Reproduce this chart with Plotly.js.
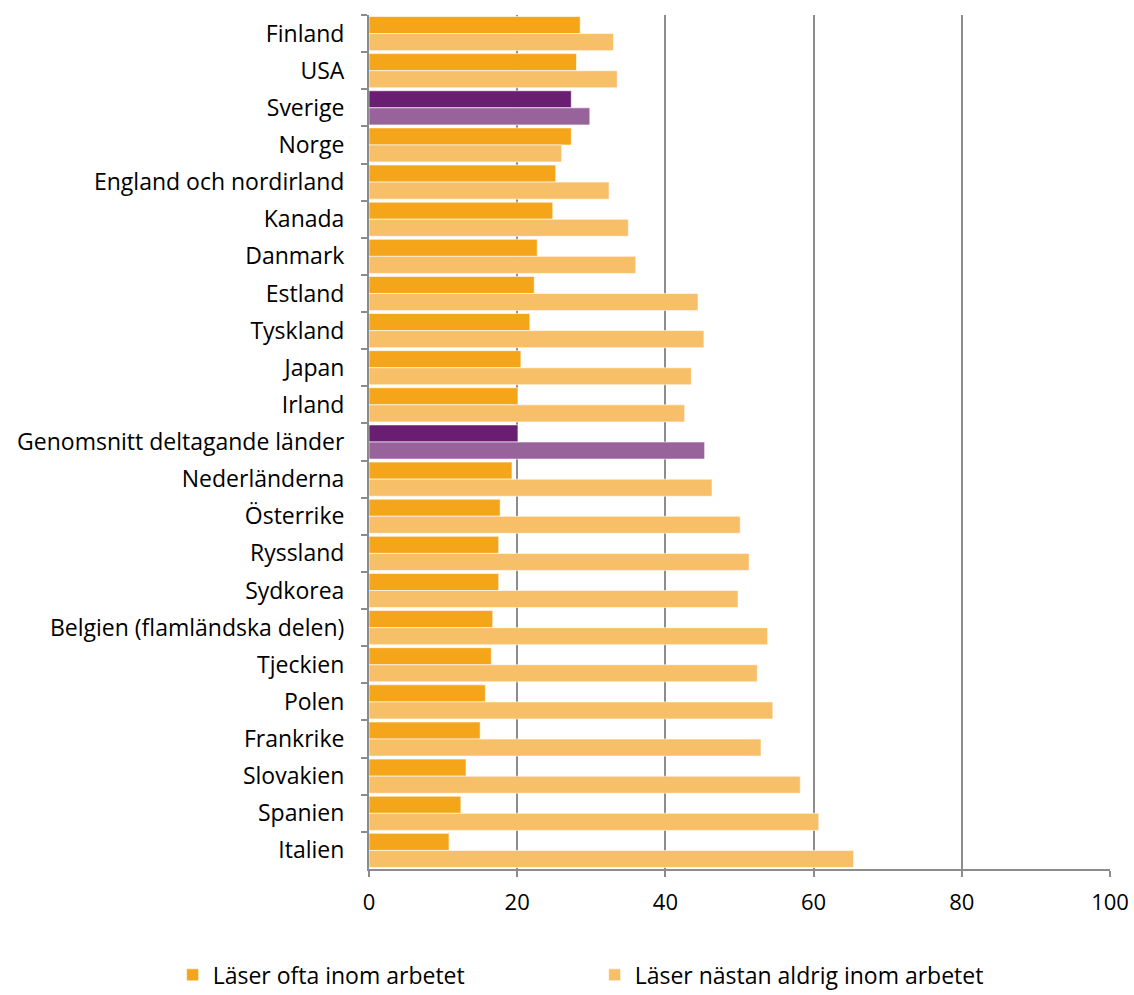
<!DOCTYPE html>
<html><head><meta charset="utf-8">
<script src="https://cdn.plot.ly/plotly-3.0.1.min.js"></script>
<style>html,body{margin:0;padding:0;background:#fff}#chart{width:1134px;height:995px}</style>
</head><body><div id="chart"></div>
<script>
const countries = ["Finland","USA","Sverige","Norge","England och nordirland","Kanada","Danmark","Estland","Tyskland","Japan","Irland","Genomsnitt deltagande länder","Nederländerna","Österrike","Ryssland","Sydkorea","Belgien (flamländska delen)","Tjeckien","Polen","Frankrike","Slovakien","Spanien","Italien"];
const oftaValues = [28.5,28.0,27.3,27.3,25.2,24.8,22.7,22.3,21.7,20.5,20.1,20.1,19.3,17.7,17.5,17.5,16.7,16.5,15.7,15.0,13.1,12.4,10.8];
const aldrigValues = [33.0,33.5,29.8,26.0,32.4,35.0,36.0,44.4,45.2,43.5,42.6,45.3,46.3,50.1,51.3,49.8,53.8,52.4,54.5,52.9,58.2,60.7,65.4];
const seriesNames = ["Läser ofta inom arbetet","Läser nästan aldrig inom arbetet"];
const highlight = ["Sverige","Genomsnitt deltagande länder"];
const xTicks = [0,20,40,60,80,100];

const c1 = countries.map(c => highlight.includes(c) ? "#6A1E72" : "#F4A519");
const c2 = countries.map(c => highlight.includes(c) ? "#98629B" : "#F8BF69");

const traces = [
  {type:"bar", orientation:"h", name:seriesNames[0], y:countries, x:oftaValues,
   marker:{color:c1, line:{color:"rgba(255,255,255,0.6)", width:1}}},
  {type:"bar", orientation:"h", name:seriesNames[1], y:countries, x:aldrigValues,
   marker:{color:c2, line:{color:"rgba(255,255,255,0.6)", width:1}}}
];
const font = {family:"'Open Sans', sans-serif", size:23, color:"#000"};
const tickFont = {family:"'Open Sans', sans-serif", size:22, color:"#000"};
const layout = {
  width:1134, height:995,
  margin:{l:369, r:24, t:15, b:126, autoexpand:false},
  barmode:"group", bargap:0.08, bargroupgap:0,
  font:font,
  plot_bgcolor:"#fff", paper_bgcolor:"#fff",
  showlegend:true,
  legend:{orientation:"h", x:-0.265, xanchor:"left", y:-0.124, yanchor:"middle",
          font:font, entrywidth:377, entrywidthmode:"pixels", traceorder:"normal"},
  xaxis:{range:[0,100], tickvals:xTicks, ticktext:xTicks.map(String),
         showgrid:true, gridcolor:"#8C8C8C", gridwidth:2,
         showline:true, linecolor:"#8C8C8C", linewidth:2,
         ticks:"outside", ticklen:6, tickcolor:"#8C8C8C", tickwidth:2,
         zeroline:false, fixedrange:true, tickfont:tickFont, ticklabelstandoff:7},
  yaxis:{type:"category", autorange:"reversed", categoryorder:"array", categoryarray:countries,
         showline:true, linecolor:"#8C8C8C", linewidth:2,
         ticks:"outside", ticklen:6, tickcolor:"#8C8C8C", tickwidth:2, tickson:"boundaries",
         showgrid:false, zeroline:false, tickfont:font, ticklabelstandoff:18}
};
Plotly.newPlot("chart", traces, layout, {displayModeBar:false, staticPlot:true});
</script></body></html>
